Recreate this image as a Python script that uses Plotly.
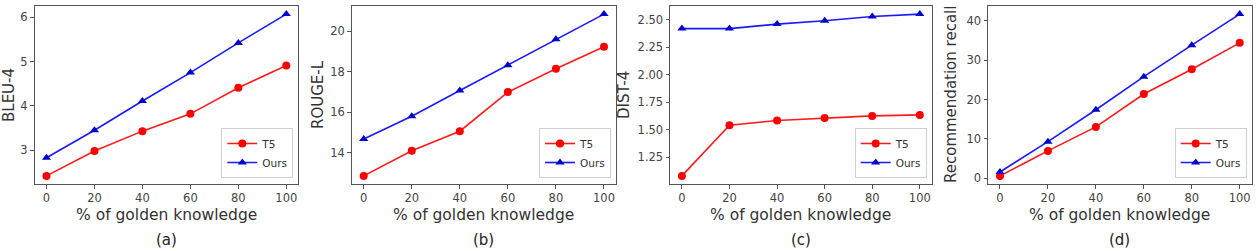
import plotly.graph_objects as go

# ---- data ----
x_pct = [0, 20, 40, 60, 80, 100]
x_ticks = [0, 20, 40, 60, 80, 100]

bleu_t5 = [2.42, 2.98, 3.43, 3.82, 4.41, 4.91]
bleu_ours = [2.83, 3.45, 4.11, 4.75, 5.42, 6.07]

rouge_t5 = [12.87, 14.11, 15.07, 17.0, 18.15, 19.23]
rouge_ours = [14.69, 15.81, 17.08, 18.32, 19.6, 20.84]

dist_t5 = [1.082, 1.543, 1.585, 1.609, 1.627, 1.636]
dist_ours = [2.42, 2.42, 2.461, 2.491, 2.53, 2.552]

rec_t5 = [0.6, 6.95, 13.05, 21.4, 27.7, 34.4]
rec_ours = [1.6, 9.3, 17.4, 25.8, 33.8, 41.7]

y_titles = ["BLEU-4", "ROUGE-L", "DIST-4", "Recommendation recall"]
captions = ["(a)", "(b)", "(c)", "(d)"]
x_title = "% of golden knowledge"
y_tickvals = [[3, 4, 5, 6], [14, 16, 18, 20],
              [1.25, 1.5, 1.75, 2.0, 2.25, 2.5], [0, 10, 20, 30, 40]]
y_tickfmt = ["d", "d", ".2f", "d"]

series = [(bleu_t5, bleu_ours), (rouge_t5, rouge_ours),
          (dist_t5, dist_ours), (rec_t5, rec_ours)]

# ---- layout (pixels) ----
W, H = 1256, 251
panels_px = [(34.5, 298.3), (351.7, 616.0), (670.0, 931.7), (988.0, 1251.7)]
ytitle_cx = [9, 318, 624, 951]
top_px, bot_px = 6.0, 184.0
FONT = "DejaVu Sans"

fig = go.Figure()
layout = dict(
    width=W, height=H, margin=dict(l=0, r=0, t=0, b=0),
    paper_bgcolor="white", plot_bgcolor="white",
    font=dict(family=FONT, color="#333"), showlegend=True,
)
annotations = []

for i, ((t5, ours), (x0, x1)) in enumerate(zip(series, panels_px)):
    n = "" if i == 0 else str(i + 1)
    xa, ya = "x" + n, "y" + n
    lg = "legend" if i == 0 else "legend" + str(i + 1)
    fig.add_trace(go.Scatter(
        x=x_pct, y=t5, name="T5", mode="lines+markers", xaxis=xa, yaxis=ya,
        line=dict(color="#ff1a1a", width=1.6),
        marker=dict(symbol="circle", size=8, color="#ff0000"), legend=lg))
    fig.add_trace(go.Scatter(
        x=x_pct, y=ours, name="Ours", mode="lines+markers", xaxis=xa, yaxis=ya,
        line=dict(color="#1a1aff", width=1.6),
        marker=dict(symbol="triangle-up", size=8, color="#0000cc"), legend=lg))

    lo = min(min(t5), min(ours))
    hi = max(max(t5), max(ours))
    pad = (hi - lo) * 0.05
    common = dict(showline=True, linecolor="#555", linewidth=1, mirror=True,
                  ticks="outside", ticklen=3.5, tickcolor="#555", tickwidth=1,
                  showgrid=False, zeroline=False,
                  tickfont=dict(family=FONT, size=11.5, color="#444"))
    layout["xaxis" + n] = dict(
        domain=[x0 / W, x1 / W], anchor=ya, range=[-5, 105],
        tickvals=x_ticks, **common)
    layout["yaxis" + n] = dict(
        domain=[1 - bot_px / H, 1 - top_px / H], anchor=xa,
        range=[lo - pad, hi + pad], tickvals=y_tickvals[i],
        tickformat=y_tickfmt[i], **common)
    layout[lg] = dict(
        x=(x1 - 5) / W, y=1 - (bot_px - 6) / H, xanchor="right", yanchor="bottom",
        bgcolor="rgba(255,255,255,0.8)", bordercolor="#d0d0d0", borderwidth=1,
        font=dict(family=FONT, size=10.5, color="#333"),
        tracegroupgap=0, itemwidth=30)

    cx = (x0 + x1) / 2 / W
    annotations.append(dict(text=x_title, x=cx, y=1 - 215 / H, xref="paper",
                            yref="paper", showarrow=False, xanchor="center",
                            yanchor="middle",
                            font=dict(family=FONT, size=15.5, color="#333")))
    annotations.append(dict(text=captions[i], x=cx, y=1 - 240 / H, xref="paper",
                            yref="paper", showarrow=False, xanchor="center",
                            yanchor="middle",
                            font=dict(family=FONT, size=15, color="#222")))
    annotations.append(dict(text=y_titles[i], x=ytitle_cx[i] / W,
                            y=1 - 95 / H, xref="paper", yref="paper",
                            showarrow=False, textangle=-90, xanchor="center",
                            yanchor="middle",
                            font=dict(family=FONT, size=15, color="#333")))

layout["annotations"] = annotations
fig.update_layout(**layout)
fig.write_html(
    "out.html",
    config={"displayModeBar": False},
    post_script="document.body.style.margin='0';document.body.style.overflow='hidden';",
)
